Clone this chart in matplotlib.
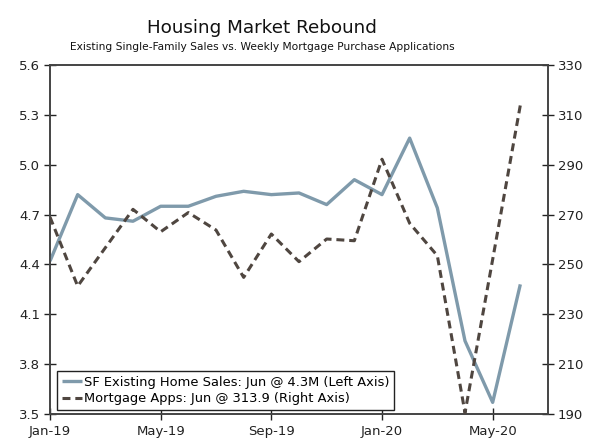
import matplotlib
matplotlib.use("Agg")
import matplotlib.pyplot as plt

plt.rcParams['font.family'] = ['DejaVu Sans']

months = ["Jan-19", "Feb-19", "Mar-19", "Apr-19", "May-19", "Jun-19", "Jul-19", "Aug-19",
          "Sep-19", "Oct-19", "Nov-19", "Dec-19", "Jan-20", "Feb-20", "Mar-20", "Apr-20",
          "May-20", "Jun-20"]
sf_sales = [4.42, 4.82, 4.68, 4.66, 4.75, 4.75, 4.81, 4.84, 4.82, 4.83, 4.76, 4.91,
            4.82, 5.16, 4.74, 3.94, 3.57, 4.28]
mortgage_apps = [269.0, 241.3, 256.7, 272.1, 263.1, 270.8, 263.8, 244.8, 262.2, 251.1,
                 260.2, 259.5, 292.2, 266.5, 253.5, 190.5, 252.0, 313.9]
xtick_labels = ["Jan-19", "May-19", "Sep-19", "Jan-20", "May-20"]
left_ticks = [3.5, 3.8, 4.1, 4.4, 4.7, 5.0, 5.3, 5.6]
right_ticks = [190, 210, 230, 250, 270, 290, 310, 330]

x = list(range(len(months)))
xtick_pos = [months.index(m) for m in xtick_labels]

fig = plt.figure(figsize=(6.0, 4.46), dpi=100)
ax = fig.add_axes([50/600, 32/446, 498/600, 349/446])
ax2 = ax.twinx()

l1, = ax.plot(x, sf_sales, color="#7f9aab", lw=2.4, solid_capstyle="butt",
              label="SF Existing Home Sales: Jun @ 4.3M (Left Axis)", zorder=3)
l2, = ax2.plot(x, mortgage_apps, color="#4f4640", lw=2.2, dashes=(2.6, 1.6),
               label="Mortgage Apps: Jun @ 313.9 (Right Axis)", zorder=3)

ax.set_xlim(0, 18)
ax.set_ylim(3.5, 5.6)
ax2.set_ylim(190, 330)
ax.set_xticks(xtick_pos)
ax.set_xticklabels(xtick_labels)
ax.set_yticks(left_ticks)
ax.set_yticklabels([f"{v:.1f}" for v in left_ticks])
ax2.set_yticks(right_ticks)
ax2.set_yticklabels([str(v) for v in right_ticks])

for a in (ax, ax2):
    a.tick_params(direction="inout", length=8, width=1, colors="#222222",
                  labelsize=9.5, labelcolor="#222222")
    for s in a.spines.values():
        s.set_color("#444444")
        s.set_linewidth(1.2)
ax.tick_params(axis="x", pad=4)
ax.tick_params(axis="y", pad=3)
ax2.tick_params(axis="y", pad=3)

leg = ax2.legend(handles=[l1, l2], loc="lower left", bbox_to_anchor=(7/498, 4/349),
                 fontsize=9.4, frameon=True, fancybox=False, framealpha=1,
                 edgecolor="#222222", handlelength=1.6, handletextpad=0.15,
                 borderpad=0.35, labelspacing=0.3, borderaxespad=0)
leg.get_frame().set_linewidth(1.0)

fig.text(262/600, 1 - 28/446, "Housing Market Rebound", ha="center", va="center",
         fontsize=13.2, color="#111111")
fig.text(262/600, 1 - 47/446, "Existing Single-Family Sales vs. Weekly Mortgage Purchase Applications",
         ha="center", va="center", fontsize=7.7, color="#111111")

fig.savefig("out.png", dpi=100)
